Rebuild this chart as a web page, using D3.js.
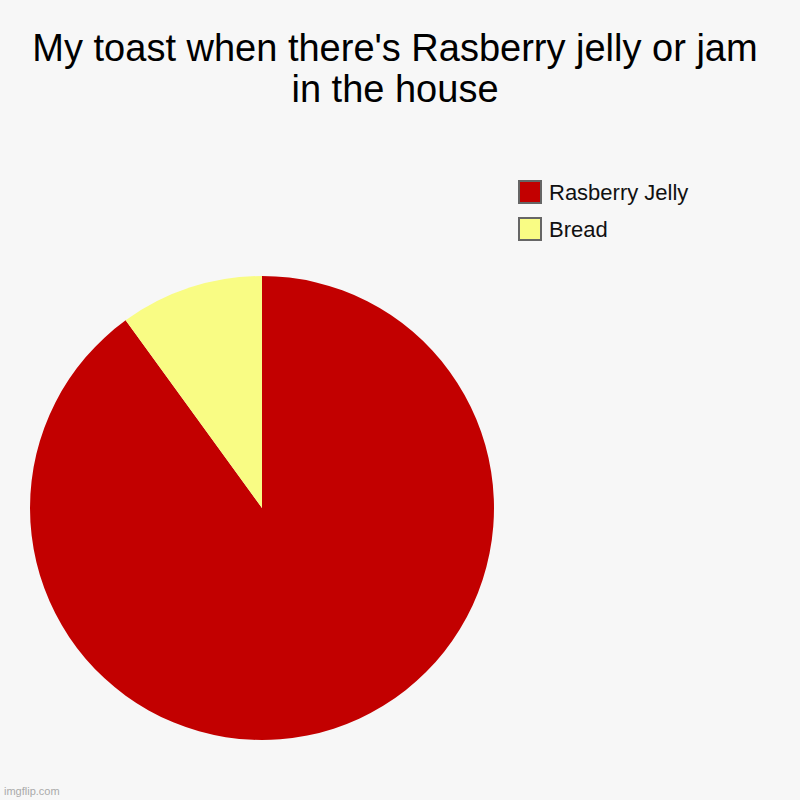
<!DOCTYPE html>
<html>
<head>
<meta charset="utf-8">
<script src="https://cdn.jsdelivr.net/npm/d3@7"></script>
<style>
  body { margin:0; background:#f7f7f7; }
  text { font-family: "Liberation Sans", Arial, sans-serif; }
</style>
</head>
<body>
<div id="chart"></div>
<script>
// slice data
var labels = ["Rasberry Jelly", "Bread"]
var values = [90, 10]
var colors = ["#c20000", "#f9fc84"]
var title_lines = ["My toast when there's Rasberry jelly or jam", "in the house"]

var width = 800, height = 800

var svg = d3.select("#chart")
  .append("svg")
    .attr("width", width)
    .attr("height", height)
    .style("background", "#f7f7f7")

// title
svg.append("text")
  .attr("x", 395)
  .attr("y", 61)
  .attr("text-anchor", "middle")
  .style("font-size", "38px")
  .style("fill", "#000")
  .selectAll("tspan")
  .data(title_lines)
  .join("tspan")
    .attr("x", 395)
    .attr("dy", (d, i) => i == 0 ? 0 : 41)
    .text(d => d)

// pie
var color = d3.scaleOrdinal().domain(labels).range(colors)
var pie = d3.pie().sort(null).value(d => d.value)
var arc = d3.arc().innerRadius(0).outerRadius(232)

var data = labels.map((l, i) => ({name: l, value: values[i]}))

svg.append("g")
    .attr("transform", "translate(262,508)")
  .selectAll("path")
  .data(pie(data))
  .join("path")
    .attr("d", arc)
    .attr("fill", d => color(d.data.name))

// legend
var legend = svg.append("g")
    .attr("transform", "translate(519,181)")
  .selectAll("g")
  .data(labels)
  .join("g")
    .attr("transform", (d, i) => `translate(0, ${i * 37})`)

legend.append("rect")
    .attr("width", 22)
    .attr("height", 22)
    .attr("fill", d => color(d))
    .attr("stroke", "#666")
    .attr("stroke-width", 2)

legend.append("text")
    .attr("x", 30)
    .attr("y", 19)
    .style("font-size", "22px")
    .style("fill", "#111")
    .text(d => d)

// watermark
svg.append("text")
  .attr("x", 4)
  .attr("y", 795)
  .style("font-size", "11px")
  .style("fill", "#aaa")
  .text("imgflip.com")
</script>
</body>
</html>
